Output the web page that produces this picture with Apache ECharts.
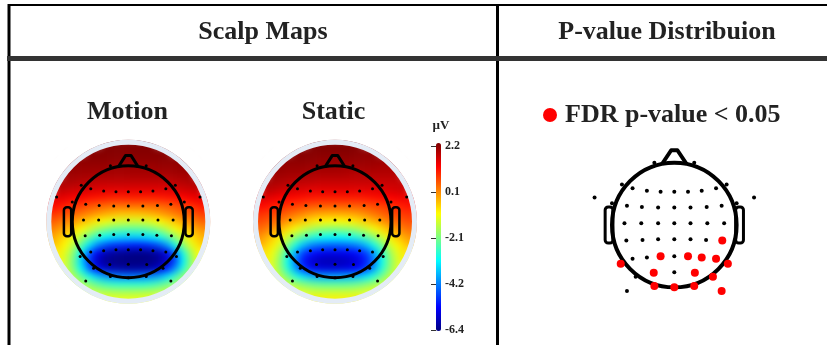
<!DOCTYPE html>
<html><head><meta charset="utf-8">
<script src="https://cdn.jsdelivr.net/npm/echarts@6/dist/echarts.min.js"></script>
<style>html,body{margin:0;padding:0;background:#fff}#c{width:827px;height:345px}</style>
</head><body><div id="c"></div>
<script>
// ---------- data ----------
// grid cell centres (in head radii), shared by both scalp maps (x: left->right, y: bottom->top)
const cellCenters = [-1.4,-1.26,-1.12,-0.98,-0.84,-0.7,-0.56,-0.42,-0.28,-0.14,0,0.14,0.28,0.42,0.56,0.7,0.84,0.98,1.12,1.26,1.4];
const motionGrid = [
[2.2,2.2,2.2,2.2,2.2,2.2,2.2,2.2,2.2,2.2,2.2,2.2,2.2,2.2,2.2,2.2,2.2,2.2,2.2,2.2,2.2],
[2.2,2.2,2.2,2.2,2.2,2.15,2.15,2.15,2.15,2.15,2.15,2.15,2.15,2.15,2.15,2.15,2.2,2.2,2.2,2.2,2.2],
[2.1,2.1,2.1,2.1,2.1,2.1,2.1,2.1,2.1,2.1,2.1,2.1,2.1,2.1,2.1,2.1,2.1,2.1,2.1,2.1,2.1],
[2.05,2.05,2.05,2.05,2.0,2.0,2.0,2.0,1.95,1.95,1.95,1.95,1.95,1.95,2.0,2.0,2.0,2.05,2.05,2.05,2.05],
[2.0,2.0,1.95,1.95,1.9,1.9,1.85,1.85,1.85,1.85,1.85,1.85,1.85,1.85,1.85,1.85,1.9,1.9,1.95,1.95,2.0],
[1.9,1.85,1.85,1.8,1.75,1.7,1.65,1.65,1.65,1.65,1.65,1.65,1.65,1.65,1.65,1.65,1.7,1.75,1.8,1.85,1.85],
[1.7,1.65,1.6,1.55,1.5,1.45,1.4,1.35,1.35,1.35,1.35,1.35,1.35,1.35,1.35,1.4,1.45,1.5,1.55,1.6,1.65],
[1.4,1.35,1.3,1.2,1.1,1.0,0.95,0.9,0.85,0.85,0.85,0.85,0.85,0.85,0.9,0.95,1.0,1.1,1.2,1.3,1.35],
[1.1,1.0,0.9,0.75,0.6,0.45,0.35,0.25,0.2,0.2,0.2,0.2,0.2,0.2,0.25,0.35,0.45,0.6,0.75,0.9,1.0],
[0.75,0.65,0.5,0.3,0.15,0,-0.15,-0.3,-0.4,-0.5,-0.5,-0.5,-0.45,-0.35,-0.2,-0.05,0.1,0.25,0.4,0.55,0.7],
[0.4,0.25,0.05,-0.15,-0.4,-0.65,-0.9,-1.1,-1.25,-1.35,-1.4,-1.4,-1.35,-1.2,-1.0,-0.75,-0.5,-0.25,0,0.2,0.35],
[0.1,-0.1,-0.35,-0.65,-1.0,-1.4,-1.8,-2.1,-2.3,-2.4,-2.45,-2.45,-2.4,-2.25,-1.95,-1.55,-1.1,-0.75,-0.45,-0.2,0.0],
[-0.2,-0.45,-0.75,-1.15,-1.7,-2.3,-2.85,-3.2,-3.4,-3.5,-3.55,-3.55,-3.5,-3.35,-3.05,-2.6,-1.95,-1.35,-0.85,-0.5,-0.3],
[-0.4,-0.65,-1.0,-1.6,-2.4,-3.3,-4.1,-4.6,-4.9,-5.0,-5.05,-5.1,-5.05,-4.9,-4.6,-4.0,-3.0,-2.0,-1.25,-0.75,-0.5],
[-0.6,-0.85,-1.3,-2.0,-3.2,-4.5,-5.4,-5.9,-6.1,-6.2,-6.25,-6.3,-6.3,-6.2,-6.0,-5.5,-4.4,-3.0,-1.8,-1.0,-0.7],
[-0.7,-0.95,-1.4,-2.2,-3.5,-4.9,-5.8,-6.2,-6.35,-6.4,-6.4,-6.4,-6.4,-6.35,-6.2,-5.8,-4.8,-3.3,-2.0,-1.15,-0.8],
[-0.8,-1.0,-1.4,-2.1,-3.2,-4.4,-5.3,-5.8,-6.0,-6.1,-6.15,-6.15,-6.1,-6.0,-5.7,-5.1,-4.1,-2.9,-1.9,-1.2,-0.85],
[-0.85,-1.0,-1.25,-1.7,-2.3,-3.0,-3.6,-4.0,-4.2,-4.3,-4.35,-4.35,-4.3,-4.15,-3.9,-3.4,-2.7,-2.0,-1.45,-1.05,-0.9],
[-0.85,-0.95,-1.1,-1.35,-1.65,-2.0,-2.35,-2.6,-2.75,-2.8,-2.8,-2.8,-2.8,-2.7,-2.5,-2.2,-1.85,-1.5,-1.2,-1.0,-0.9],
[-0.85,-0.9,-0.95,-1.1,-1.25,-1.4,-1.55,-1.65,-1.7,-1.75,-1.75,-1.75,-1.7,-1.65,-1.55,-1.45,-1.3,-1.15,-1.0,-0.95,-0.9],
[-0.9,-0.9,-0.95,-1.0,-1.05,-1.1,-1.1,-1.15,-1.15,-1.15,-1.15,-1.15,-1.15,-1.15,-1.1,-1.1,-1.05,-1.0,-0.95,-0.9,-0.9]
];
// potential (µV)
const staticGrid = [
[2.2,2.2,2.2,2.2,2.2,2.2,2.2,2.2,2.2,2.2,2.2,2.2,2.2,2.2,2.2,2.2,2.2,2.2,2.2,2.2,2.2],
[2.2,2.2,2.2,2.2,2.2,2.15,2.15,2.15,2.15,2.15,2.15,2.15,2.15,2.1,2.1,2.1,2.1,2.1,2.1,2.1,2.1],
[2.1,2.1,2.1,2.1,2.1,2.1,2.1,2.1,2.05,2.05,2.05,2.05,2.05,2.05,2.0,2.0,2.0,2.0,2.0,2.0,2.0],
[2.05,2.05,2.05,2.05,2.0,2.0,2.0,1.95,1.95,1.95,1.95,1.9,1.9,1.9,1.9,1.9,1.85,1.85,1.85,1.85,1.85],
[2.0,2.0,1.95,1.95,1.9,1.9,1.85,1.85,1.8,1.8,1.8,1.8,1.75,1.75,1.75,1.75,1.75,1.75,1.75,1.75,1.75],
[1.9,1.9,1.85,1.8,1.75,1.7,1.65,1.65,1.6,1.6,1.6,1.6,1.6,1.6,1.6,1.6,1.6,1.6,1.6,1.65,1.65],
[1.75,1.7,1.65,1.55,1.5,1.45,1.4,1.35,1.35,1.35,1.35,1.35,1.35,1.35,1.35,1.35,1.4,1.45,1.5,1.55,1.55],
[1.45,1.4,1.3,1.2,1.1,1.05,1.0,0.95,0.9,0.9,0.9,0.9,0.9,0.9,0.95,1.0,1.05,1.15,1.2,1.25,1.3],
[1.1,1.05,0.95,0.85,0.7,0.6,0.5,0.42,0.38,0.35,0.35,0.35,0.35,0.38,0.42,0.5,0.6,0.7,0.85,0.95,1.0],
[0.8,0.7,0.6,0.45,0.3,0.15,0.0,-0.15,-0.25,-0.3,-0.3,-0.3,-0.25,-0.15,0.0,0.15,0.3,0.45,0.6,0.7,0.75],
[0.55,0.45,0.3,0.1,-0.15,-0.4,-0.6,-0.8,-0.95,-1.0,-1.05,-1.0,-0.95,-0.8,-0.6,-0.4,-0.15,0.1,0.3,0.45,0.5],
[0.3,0.15,-0.1,-0.4,-0.75,-1.1,-1.45,-1.75,-1.95,-2.05,-2.1,-2.05,-1.95,-1.75,-1.45,-1.1,-0.75,-0.4,-0.1,0.15,0.25],
[0.0,-0.25,-0.55,-0.95,-1.45,-2.0,-2.5,-2.85,-3.05,-3.15,-3.2,-3.15,-3.05,-2.85,-2.5,-2.0,-1.45,-0.95,-0.55,-0.25,-0.05],
[-0.3,-0.5,-0.85,-1.35,-2.1,-2.95,-3.7,-4.15,-4.35,-4.45,-4.5,-4.45,-4.35,-4.15,-3.7,-3.0,-2.2,-1.45,-0.95,-0.6,-0.35],
[-0.5,-0.75,-1.15,-1.8,-2.8,-3.9,-4.8,-5.2,-5.4,-5.5,-5.5,-5.45,-5.4,-5.2,-4.8,-4.0,-2.9,-1.9,-1.25,-0.8,-0.55],
[-0.6,-0.85,-1.3,-2.0,-3.1,-4.3,-5.2,-5.7,-5.9,-5.95,-5.95,-5.9,-5.8,-5.6,-5.1,-4.3,-3.1,-2.1,-1.35,-0.9,-0.65],
[-0.7,-0.9,-1.3,-1.95,-2.9,-4.0,-4.9,-5.4,-5.6,-5.65,-5.65,-5.6,-5.5,-5.3,-4.8,-4.0,-2.9,-2.0,-1.35,-0.9,-0.7],
[-0.7,-0.85,-1.15,-1.6,-2.2,-2.9,-3.4,-3.75,-3.9,-3.95,-3.95,-3.9,-3.85,-3.7,-3.35,-2.85,-2.2,-1.6,-1.15,-0.85,-0.7],
[-0.7,-0.8,-0.95,-1.2,-1.5,-1.8,-2.05,-2.25,-2.35,-2.4,-2.4,-2.4,-2.35,-2.25,-2.05,-1.8,-1.5,-1.2,-0.95,-0.8,-0.7],
[-0.7,-0.75,-0.85,-0.95,-1.1,-1.2,-1.3,-1.4,-1.45,-1.45,-1.45,-1.45,-1.45,-1.4,-1.3,-1.2,-1.1,-0.95,-0.85,-0.75,-0.7],
[-0.7,-0.75,-0.8,-0.85,-0.85,-0.9,-0.9,-0.9,-0.9,-0.9,-0.9,-0.9,-0.9,-0.9,-0.9,-0.9,-0.85,-0.85,-0.8,-0.75,-0.7]
];
// electrode positions (head radii, x right, y front)
const elecX = [-0.32,0.32,-0.84,0.84,-0.67,-0.44,-0.22,0,0.22,0.44,0.67,-1.28,1.28,-1.0,-0.76,-0.52,-0.26,0,0.26,0.52,0.76,1.0,-0.80,-0.53,-0.26,0,0.26,0.53,0.80,-0.77,-0.51,-0.26,0,0.26,0.51,0.77,-0.67,-0.44,-0.22,0,0.22,0.44,0.67,-0.86,0.86,-0.62,-0.33,0,0.33,0.62,-0.32,0,0.32,-0.76,0.76];
const elecY = [1.0,1.0,0.65,0.65,0.59,0.55,0.535,0.535,0.535,0.55,0.59,0.44,0.44,0.35,0.31,0.29,0.28,0.28,0.28,0.29,0.31,0.35,0.03,0.03,0.03,0.03,0.03,0.03,0.03,-0.25,-0.24,-0.23,-0.23,-0.23,-0.24,-0.25,-0.54,-0.52,-0.50,-0.50,-0.50,-0.52,-0.54,-0.62,-0.62,-0.83,-0.765,-0.76,-0.765,-0.83,-0.98,-1.0,-0.98,-1.06,-1.06];
// electrodes with FDR p < 0.05 (1-based index into elecX / elecY)
const sigElectrodes = [36,39,41,42,43,44,45,47,49,50,51,52,53,55];
const cbTickLabels = ['-6.4','-4.2','-2.1','0.1','2.2'];
const cbRange = [-6.4, 2.2];
const titles = ['Scalp Maps','P-value Distribuion'];
const conditions = ['Motion','Static'];
const legendName = 'FDR p-value < 0.05';

// ---------- build ----------
const FONT = '"Liberation Serif","Times New Roman",serif';
const jet = ['#000080','#0000ff','#0080ff','#00ffff','#80ff80','#ffff00','#ff8000','#ff0000','#800000'];
const cats = cellCenters.map(String);
function heatData(grid){
  const out=[];
  for(let r=0;r<grid.length;r++){
    const yi = grid.length-1-r, v = cellCenters[yi];
    for(let c=0;c<grid[r].length;c++){
      const u = cellCenters[c];
      if (Math.hypot(u,v) <= 1.5) out.push([c, yi, grid[r][c]]);
    }
  }
  return out;
}
const elecAll = elecX.map((x,i)=>[x, elecY[i]]);
const sigSet = new Set(sigElectrodes.map(i=>i-1));
const elecSig = elecAll.filter((p,i)=>sigSet.has(i));
const elecNon = elecAll.filter((p,i)=>!sigSet.has(i));

function headRenderer(o){
  return function(params, api){
    const c = api.coord([0,0]);
    const sz = api.size([1,1]);
    const sx = sz[0], sy = sz[1];
    const P = (u,v)=>[c[0]+u*sx, c[1]-v*sy];
    const ch = [];
    if (o.ring){
      ch.push({type:'circle', shape:{cx:c[0],cy:c[1],r:o.maskR}, style:{fill:'none',stroke:'#fff',lineWidth:o.maskW}});
      ch.push({type:'circle', shape:{cx:c[0],cy:c[1],r:o.ringR}, style:{fill:'none',stroke:'#e4ecf6',lineWidth:o.ringW}});
    }
    ch.push({type:'polyline', shape:{points:[P(-o.noseW,0.975),P(-0.05,o.noseH),P(0.05,o.noseH),P(o.noseW,0.975)]}, style:{fill:'none',stroke:'#000',lineWidth:o.lw,lineJoin:'round'}});
    ch.push({type:'circle', shape:{cx:c[0],cy:c[1],r:sx}, style:{fill:'none',stroke:'#000',lineWidth:o.lw}});
    [-1,1].forEach(s=>{
      const x0 = s<0 ? c[0]-o.earOut*sx : c[0]+o.earIn*sx;
      ch.push({type:'rect', shape:{x:x0, y:c[1]-o.earH*sy, width:(o.earOut-o.earIn)*sx, height:2*o.earH*sy, r:3}, style:{fill:'none',stroke:'#000',lineWidth:o.earLw}});
    });
    return {type:'group', children:ch};
  };
}

const S = 56;                // px per head radius in the scalp maps
const half = 1.47*S;
const mC = [128.3, 221.7], sC = [335, 221.7];
const pR = 62.3, pC = [674.3, 225], pHalf = 1.6*pR;
const gridBox = (cx,cy,h)=>({left:cx-h, top:cy-h, width:2*h, height:2*h, outerBoundsMode:'none'});
const hiddenCat = (gi)=>({gridIndex:gi, type:'category', data:cats, show:false});
const hiddenVal = (gi,lim)=>({gridIndex:gi, type:'value', min:-lim, max:lim, show:false});

const scalpHead = {ring:true, ringR:79.5, ringW:5, maskR:89, maskW:14, lw:3, earIn:1.02, earOut:1.15, earH:0.26, earLw:2.5, noseW:0.18, noseH:1.18};
const pHead = {ring:false, lw:4, earIn:0.985, earOut:1.11, earH:0.29, earLw:3, noseW:0.2, noseH:1.2};

const txt = (t,x,y,size)=>({type:'text', x, y, style:{text:t, fontFamily:FONT, fontWeight:'bold', fontSize:size, fill:'#222', align:'center', verticalAlign:'middle'}});

const HEAT_LAYER = -1;
const option = {
  animation:false,
  backgroundColor:'#fff',
  grid:[ gridBox(mC[0],mC[1],half), gridBox(mC[0],mC[1],half), gridBox(sC[0],sC[1],half), gridBox(sC[0],sC[1],half),
         gridBox(pC[0],pC[1],pHalf), {left:436, top:146, width:5, height:184, outerBoundsMode:'none'} ],
  xAxis:[ hiddenCat(0), hiddenVal(1,1.47), hiddenCat(2), hiddenVal(3,1.47), hiddenVal(4,1.6), {gridIndex:5,type:'value',min:0,max:1,show:false} ],
  yAxis:[ hiddenCat(0), hiddenVal(1,1.47), hiddenCat(2), hiddenVal(3,1.47), hiddenVal(4,1.6),
    {gridIndex:5, type:'value', min:0, max:4, interval:1, position:'right',
     axisLine:{show:false}, splitLine:{show:false},
     axisTick:{show:true, inside:true, length:5, lineStyle:{color:'#333', width:1}},
     axisLabel:{formatter:(v)=>cbTickLabels[v] ?? '', fontFamily:FONT, fontWeight:'bold', fontSize:12, color:'#222', margin:4}} ],
  visualMap:{type:'continuous', min:cbRange[0], max:cbRange[1], seriesIndex:[0,1], left:436, top:143, itemWidth:5, itemHeight:188,
    text:['',''], calculable:false, padding:0, hoverLink:false, inRange:{color:jet}},
  legend:{data:[legendName], left:538, top:97, icon:'circle', itemWidth:14, itemHeight:14, selectedMode:false,
    itemStyle:{opacity:1},
    textStyle:{fontFamily:FONT, fontWeight:'bold', fontSize:26, color:'#222', padding:[0,0,0,3]}},
  series:[
    {type:'heatmap', zlevel:HEAT_LAYER, xAxisIndex:0, yAxisIndex:0, data:heatData(motionGrid), silent:true, itemStyle:{borderWidth:0}},
    {type:'heatmap', zlevel:HEAT_LAYER, xAxisIndex:2, yAxisIndex:2, data:heatData(staticGrid), silent:true, itemStyle:{borderWidth:0}},
    {type:'custom', xAxisIndex:1, yAxisIndex:1, data:[[0,0]], renderItem:headRenderer(scalpHead), clip:false, silent:true, z:5},
    {type:'scatter', xAxisIndex:1, yAxisIndex:1, data:elecAll, symbolSize:3, itemStyle:{color:'#000',opacity:1}, silent:true, z:6},
    {type:'custom', xAxisIndex:3, yAxisIndex:3, data:[[0,0]], renderItem:headRenderer(scalpHead), clip:false, silent:true, z:5},
    {type:'scatter', xAxisIndex:3, yAxisIndex:3, data:elecAll, symbolSize:3, itemStyle:{color:'#000',opacity:1}, silent:true, z:6},
    {type:'custom', xAxisIndex:4, yAxisIndex:4, data:[[0,0]], renderItem:headRenderer(pHead), clip:false, silent:true, z:5},
    {type:'scatter', xAxisIndex:4, yAxisIndex:4, data:elecNon, symbolSize:4, itemStyle:{color:'#000',opacity:1}, silent:true, z:6},
    {type:'scatter', name:legendName, xAxisIndex:4, yAxisIndex:4, data:elecSig, symbolSize:8, itemStyle:{color:'#ff0000',opacity:1}, silent:true, z:7}
  ],
  graphic:[
    {type:'line', shape:{x1:8,y1:5,x2:827,y2:5}, style:{stroke:'#000',lineWidth:2}},
    {type:'line', shape:{x1:9,y1:4,x2:9,y2:345}, style:{stroke:'#000',lineWidth:3}},
    {type:'line', shape:{x1:497.5,y1:4,x2:497.5,y2:345}, style:{stroke:'#000',lineWidth:3}},
    {type:'line', shape:{x1:7,y1:58.5,x2:827,y2:58.5}, style:{stroke:'#333',lineWidth:5}},
    txt(titles[0], 263, 32, 26),
    txt(titles[1], 667, 32, 26),
    txt(conditions[0], 127.5, 112, 26),
    txt(conditions[1], 333.5, 112, 26),
    txt('µV', 441, 126, 13)
  ]
};
const chart = echarts.init(document.getElementById('c'), null, {renderer:'canvas'});
chart.setOption(option);
// soften the cell edges of the scalp-map layer (purely a display filter on that canvas layer)
function softenHeatLayer(){
  const painter = chart.getZr().painter;
  const layer = painter && painter.getLayer ? painter.getLayer(HEAT_LAYER) : null;
  if (layer && layer.dom) layer.dom.style.filter = 'blur(3.5px)';
}
softenHeatLayer();
chart.on('finished', softenHeatLayer);
</script></body></html>
